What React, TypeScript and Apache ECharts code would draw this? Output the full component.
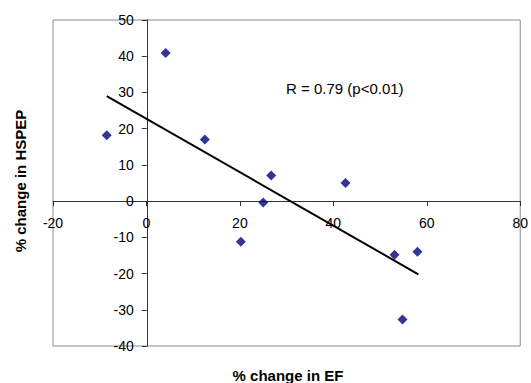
import React, { useEffect, useRef } from "react";
import * as echarts from "echarts";

const efChange = [-8.5, 4.1, 12.5, 26.7, 42.6, 25.0, 20.2, 53.1, 58.0, 54.8];
const hspepChange = [18.2, 40.9, 17.0, 7.1, 5.0, -0.4, -11.2, -14.8, -14.0, -32.7];
const trendX = [-8.5, 58.2];
const trendY = [29.0, -20.2];
const xTitle = "% change in EF";
const yTitle = "% change in HSPEP";
const annotation = "R = 0.79 (p<0.01)";

const FONT = "'Liberation Sans', Arial, sans-serif";

const W = 531;
const H = 383;
const GRID = { left: 53, right: 9, top: 20, bottom: 37 };
const X_MIN = -20, X_MAX = 80, Y_MIN = -40, Y_MAX = 50;

export default function App() {
  const ref = useRef<HTMLDivElement>(null);
  useEffect(() => {
    if (!ref.current) return;
    const chart = echarts.init(ref.current, undefined, { renderer: "svg" });
    const plotW = W - GRID.left - GRID.right;
    const plotH = H - GRID.top - GRID.bottom;
    const xOffset = -(plotH * (0 - Y_MIN)) / (Y_MAX - Y_MIN);
    const yOffset = -(plotW * (0 - X_MIN)) / (X_MAX - X_MIN);
    chart.setOption({
      animation: false,
      backgroundColor: "#ffffff",
      grid: {
        ...GRID,
        show: true,
        borderColor: "#8c8c8c",
        borderWidth: 1,
        backgroundColor: "transparent",
      },
      xAxis: {
        type: "value",
        position: "bottom",
        offset: xOffset,
        min: X_MIN,
        max: X_MAX,
        interval: 20,
        axisLine: { onZero: false, lineStyle: { color: "#333", width: 1 } },
        axisTick: { show: true, inside: false, length: 5, lineStyle: { color: "#333" } },
        axisLabel: { color: "#000", fontFamily: FONT, fontSize: 14, margin: 15, showMinLabel: true, showMaxLabel: true },
        splitLine: { show: false },
      },
      yAxis: {
        type: "value",
        position: "left",
        offset: yOffset,
        min: Y_MIN,
        max: Y_MAX,
        interval: 10,
        axisLine: { onZero: false, lineStyle: { color: "#333", width: 1 } },
        axisTick: { show: true, inside: false, length: 5, lineStyle: { color: "#333" } },
        axisLabel: { color: "#000", fontFamily: FONT, fontSize: 14, margin: 13, showMinLabel: true, showMaxLabel: true },
        splitLine: { show: false },
      },
      series: [
        {
          type: "scatter",
          data: efChange.map((x, i) => [x, hspepChange[i]]),
          symbol: "diamond",
          symbolSize: 10,
          itemStyle: { color: "#000080" },
          z: 3,
        },
        {
          type: "line",
          data: trendX.map((x, i) => [x, trendY[i]]),
          showSymbol: false,
          symbol: "none",
          lineStyle: { color: "#000", width: 2 },
          z: 2,
        },
      ],
      graphic: [
        {
          type: "text",
          left: 286,
          top: 81,
          style: { text: annotation, fill: "#000", font: `15px ${FONT}` },
        },
        {
          type: "text",
          x: 288,
          y: 375,
          style: {
            text: xTitle,
            fill: "#000",
            font: `bold 15px ${FONT}`,
            align: "center",
            verticalAlign: "middle",
          },
        },
        {
          type: "text",
          x: 20,
          y: 181,
          rotation: Math.PI / 2,
          style: {
            text: yTitle,
            fill: "#000",
            font: `bold 15px ${FONT}`,
            align: "center",
            verticalAlign: "middle",
          },
        },
      ],
    });
    return () => chart.dispose();
  }, []);
  return (
    <div
      ref={ref}
      style={{ position: "fixed", left: 0, top: 0, width: W, height: H, background: "#fff" }}
    />
  );
}
